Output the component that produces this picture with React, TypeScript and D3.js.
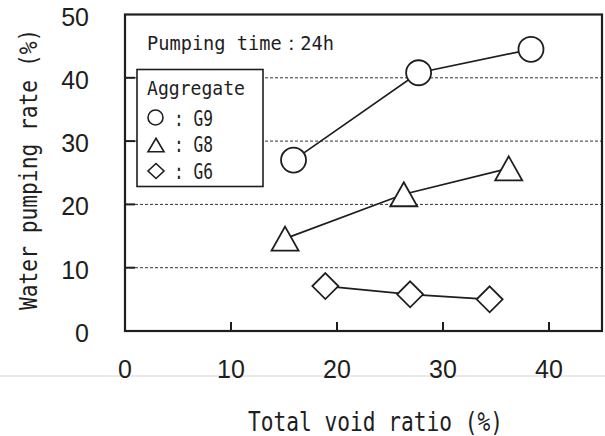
import React from 'react';
import * as d3 from 'd3';

const W = 605,
  H = 436;

// values
const yTicks = [0, 10, 20, 30, 40, 50];
const xTicks = [0, 10, 20, 30, 40];

const voidG9 = [15.9, 27.7, 38.3];
const rateG9 = [27.0, 40.8, 44.5];
const voidG8 = [15.1, 26.3, 36.2];
const rateG8 = [14.6, 21.6, 25.7];
const voidG6 = [18.9, 26.9, 34.4];
const rateG6 = [7.1, 5.8, 5.0];

const legendNames = ['G9', 'G8', 'G6'];

const MONO = "'DejaVu Sans Mono', monospace";
const SANS = "'Liberation Sans', Arial, sans-serif";
const INK = '#1e1e1e';

const triPath = (cx: number, cy: number, w: number, h: number) =>
  `M${cx},${cy - h / 2}L${cx + w / 2},${cy + h / 2}L${cx - w / 2},${cy + h / 2}Z`;
const diaPath = (cx: number, cy: number, rx: number, ry: number) =>
  `M${cx},${cy - ry}L${cx + rx},${cy}L${cx},${cy + ry}L${cx - rx},${cy}Z`;

export default function App() {
  const x = d3.scaleLinear().domain([0, 45]).range([125, 602]);
  const y = d3.scaleLinear().domain([0, 50]).range([331, 14.5]);

  const line = d3
    .line<[number, number]>()
    .x((d) => x(d[0]))
    .y((d) => y(d[1]));

  const pts = (xs: number[], ys: number[]) => xs.map((v, i) => [v, ys[i]] as [number, number]);
  const g9 = pts(voidG9, rateG9);
  const g8 = pts(voidG8, rateG8);
  const g6 = pts(voidG6, rateG6);

  const [x0, x1] = x.range();
  const [y0, y1] = y.range();

  return (
    <div style={{ position: 'absolute', left: 0, top: 0 }}>
      <svg width={W} height={H} style={{ display: 'block', background: '#fff' }}>
        {/* faint scan line */}
        <line x1={0} x2={W} y1={376} y2={376} stroke="#d6d6d6" strokeWidth={1.2} />

        {/* grid */}
        {yTicks
          .filter((t) => t > 0 && t < 50)
          .map((t) => (
            <line key={'g' + t} x1={x0} x2={x1} y1={y(t)} y2={y(t)} stroke="#333" strokeWidth={1} strokeDasharray="3,2" />
          ))}

        {/* inward ticks */}
        {yTicks
          .filter((t) => t > 0 && t < 50)
          .map((t) => (
            <line key={'yt' + t} x1={x0} x2={x0 + 10} y1={y(t)} y2={y(t)} stroke={INK} strokeWidth={2} />
          ))}
        {xTicks
          .filter((t) => t > 0)
          .map((t) => (
            <line key={'xt' + t} x1={x(t)} x2={x(t)} y1={y0} y2={y0 - 9} stroke={INK} strokeWidth={2} />
          ))}

        {/* frame */}
        <rect x={x0} y={y1} width={x1 - x0} height={y0 - y1} fill="none" stroke={INK} strokeWidth={2.2} />

        {/* tick labels */}
        {yTicks.map((t) => (
          <text key={'yl' + t} x={89} y={y(t) + 2} textAnchor="end" dominantBaseline="central" fontFamily={SANS} fontSize={25} fill={INK}>
            {t}
          </text>
        ))}
        {xTicks.map((t) => (
          <text key={'xl' + t} x={x(t)} y={369} textAnchor="middle" dominantBaseline="central" fontFamily={SANS} fontSize={25} fill={INK}>
            {t}
          </text>
        ))}

        {/* axis titles */}
        <text x={248} y={431} fontFamily={MONO} fontSize={26} fill={INK} textLength={255} lengthAdjust="spacingAndGlyphs">
          Total void ratio (%)
        </text>
        {/* narrow the mono glyphs with a scale, like the condensed original */}
        <text transform="translate(37,310) rotate(-90) scale(0.885,1)" x={0} y={0} fontFamily={MONO} fontSize={24} fill={INK}>
          Water pumping rate (%)
        </text>

        {/* series lines */}
        {[g9, g8, g6].map((s, i) => (
          <path key={'l' + i} d={line(s) ?? ''} fill="none" stroke={INK} strokeWidth={1.7} />
        ))}

        {/* markers */}
        {g9.map((d, i) => (
          <circle key={'c' + i} cx={x(d[0])} cy={y(d[1])} r={12.5} fill="#fff" stroke={INK} strokeWidth={1.8} />
        ))}
        {g8.map((d, i) => (
          <path key={'t' + i} d={triPath(x(d[0]), y(d[1]), 27, 24)} fill="#fff" stroke={INK} strokeWidth={1.8} />
        ))}
        {g6.map((d, i) => (
          <path key={'d' + i} d={diaPath(x(d[0]), y(d[1]), 13, 13)} fill="#fff" stroke={INK} strokeWidth={1.8} />
        ))}

        {/* annotation */}
        <text x={147} y={50} fontFamily={MONO} fontSize={20} fill={INK} textLength={187} lengthAdjust="spacingAndGlyphs">
          Pumping time：24h
        </text>

        {/* legend */}
        <rect x={137} y={69.5} width={126} height={117} fill="#fff" stroke={INK} strokeWidth={1.6} />
        <text x={147} y={95} fontFamily={MONO} fontSize={19} fill={INK} textLength={98} lengthAdjust="spacingAndGlyphs">
          Aggregate
        </text>
        <circle cx={155.5} cy={117.5} r={7.5} fill="none" stroke={INK} strokeWidth={1.6} />
        <path d={triPath(156, 145, 16, 13.5)} fill="none" stroke={INK} strokeWidth={1.6} />
        <path d={diaPath(156, 171, 8, 7.5)} fill="none" stroke={INK} strokeWidth={1.6} />
        {legendNames.map((n, i) => (
          <text
            key={n}
            x={174}
            y={125.5 + i * 26.5}
            fontFamily={MONO}
            fontSize={21}
            fill={INK}
            textLength={39}
            lengthAdjust="spacingAndGlyphs"
          >
            {': ' + n}
          </text>
        ))}
      </svg>
    </div>
  );
}
